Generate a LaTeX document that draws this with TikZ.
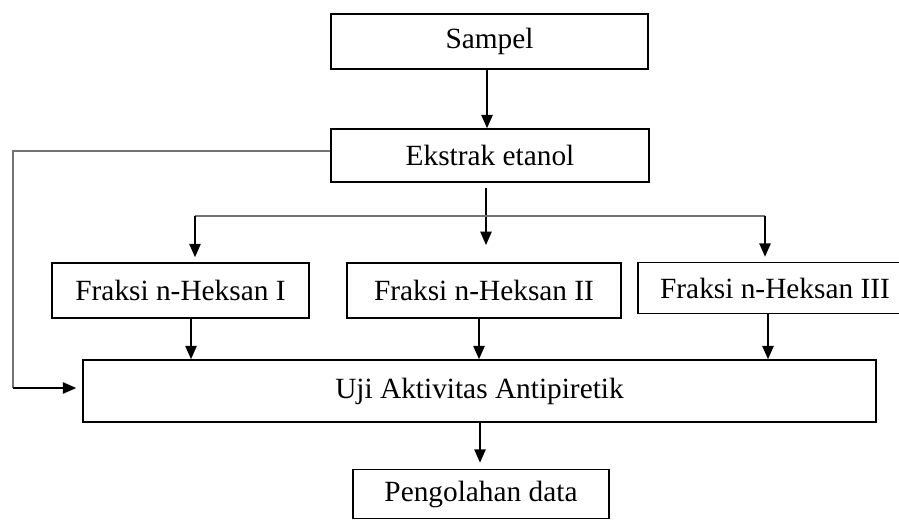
\documentclass[tikz,border=0pt]{standalone}
\usepackage{fontspec}
\setmainfont{Liberation Serif}
\usetikzlibrary{arrows.meta,calc}
\definecolor{linegray}{RGB}{115,115,115}
\begin{document}
\begin{tikzpicture}[x=0.75pt,y=-0.75pt,
  box/.style={draw=black, line width=1.2pt, inner sep=0pt, font=\fontsize{22}{26}\selectfont},
  arr/.style={draw=black, line width=1.2pt, -{Triangle[length=10pt,width=8.5pt]}},
  feed/.style={draw=linegray, line width=1.1pt}]
\useasboundingbox (0,0) rectangle (899,520);

% process boxes
\node[box, minimum width=237.75pt, minimum height=41.25pt] (sampel) at (489.5,41.5) {Sampel};
\node[box, minimum width=238.5pt, minimum height=39.75pt] (ekstrak) at (490,155.5) {Ekstrak etanol};
\node[box, minimum width=192.75pt, minimum height=41.25pt] (f1) at (180.5,290.5) {Fraksi n-Heksan I};
\node[box, minimum width=205.5pt, minimum height=41.25pt] (f2) at (484,290.5) {Fraksi n-Heksan II};
\node[box, minimum width=205.5pt, minimum height=38.25pt] (f3) at (775,288) {Fraksi n-Heksan III};
\node[box, minimum width=594.75pt, minimum height=46.5pt] (uji) at (479.5,391) {Uji Aktivitas Antipiretik};
\node[box, minimum width=192pt, minimum height=36.75pt] (peng) at (481,494) {Pengolahan data};

% sample to extract
\coordinate (s1) at ($(sampel.south)+(-2.5,0)$);
\draw[arr] (s1) -- (s1 |- ekstrak.north);

% extract splits into fractions
\coordinate (split) at (486,245);
\draw[arr] ($(ekstrak.south)+(-4,5)$) -- (split);
\coordinate (bl) at (195,216);
\coordinate (br) at (765,216);
\draw[feed] (bl) -- (br);
\draw[arr] (bl) -- ($(bl |- f1.north)+(0,-5)$);
\draw[arr] (br) -- ($(br |- f3.north)+(0,-5)$);

% fractions to the test
\coordinate (f1o) at ($(f1.south)+(10.5,0)$);
\coordinate (f2o) at ($(f2.south)+(-5,0)$);
\coordinate (f3o) at ($(f3.south)+(-7,0)$);
\draw[arr] (f1o) -- (f1o |- uji.north);
\draw[arr] (f2o) -- (f2o |- uji.north);
\draw[arr] (f3o) -- (f3o |- uji.north);

% extract goes straight to the test as well
\coordinate (lp) at (13,388);
\draw[feed] ($(ekstrak.west)+(0,-4.5)$) -| (lp);
\draw[arr] (lp) -- ($(uji.west)+(-6,-3)$);

% test to data processing
\coordinate (u1) at ($(uji.south)+(0.5,0)$);
\draw[arr] (u1) -- ($(u1 |- peng.north)+(0,-6)$);
\end{tikzpicture}
\end{document}
